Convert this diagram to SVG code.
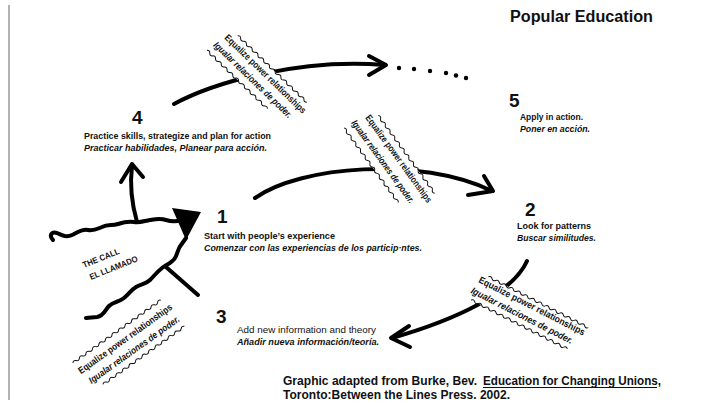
<svg xmlns="http://www.w3.org/2000/svg" width="723" height="403" viewBox="0 0 723 403">
<style>
text{font-family:"Liberation Sans",Arial,sans-serif;fill:#111}
.b{font-weight:bold}
.bi{font-weight:bold;font-style:italic}
.num{font-weight:bold;font-size:19px}
.sm{font-size:9.5px}
.lab{font-size:9.5px;font-weight:bold}
.lab2{font-size:9.5px;font-weight:bold;font-style:italic}
.arr{fill:none;stroke:#000;stroke-width:4;stroke-linecap:round;stroke-linejoin:round}
.call{fill:none;stroke:#000;stroke-width:4;stroke-linecap:round;stroke-linejoin:round}
.wave{fill:none;stroke:#111;stroke-width:1}
.strip{fill:#fff}
.ft{font-weight:bold;font-size:12.5px}
</style>
<rect width="723" height="403" fill="#fff"/>
<line x1="9" y1="5" x2="9" y2="400" stroke="#999" stroke-width="1.5"/>

<g id="title"><text x="510" y="22" class="b" font-size="16" textLength="143" lengthAdjust="spacingAndGlyphs">Popular Education</text></g>

<g id="connectors">
<path class="arr" d="M174,104 C215,82 300,58 385,65"/>
<path class="arr" d="M369,56 L386,65 L369,75"/>
<g fill="#000"><circle cx="399" cy="68" r="2.2"/><circle cx="414" cy="69" r="2.2"/><circle cx="430" cy="71" r="2.2"/><circle cx="446" cy="73" r="2.2"/><circle cx="456" cy="75.5" r="2.2"/><circle cx="466" cy="78" r="2.2"/></g>
<path class="arr" d="M255,198 C300,166 420,156 492,191"/>
<path class="arr" d="M484,176 L493,191 L468,195"/>
<path class="arr" d="M527,261 C513,293 455,320 392,338"/>
<path class="arr" d="M409,326 L391,338 L410,347"/>
<path class="call" d="M53,240 C49,236 51,231 57,233 C62,235 66,238 72,235 C78,232 82,229 88,230 C94,231 97,229 102,227 C108,224 112,226 118,224 C124,222 128,221 134,222 C140,223 144,221 150,220 C156,219 160,218 166,220 C172,222 176,222 182,220 L188,219"/>
<path class="call" d="M86,318 L97,317 C104,316 105,310 109,306 C113,302 119,302 124,298 C129,294 131,290 136,287 C141,284 146,284 150,280 C154,276 157,272 162,268 C167,264 172,263 175,258 C178,253 178,248 181,245 L186,238"/>
<polygon points="172,208 201,212 186,240" fill="#000"/>
<path class="arr" stroke-width="3" d="M166,267 L198,295"/>
<path class="arr" d="M137,222 C133,208 129,190 132,166"/>
<path class="arr" d="M121,182 L132,164 L143,177"/>
</g>

<g id="label-top" transform="translate(259,77) rotate(44)">
<rect class="strip" x="-58" y="-15" width="118" height="32"/>
<path class="wave" d="M-44,-15 q2,-2.2 4,0 t4,0 t4,0 t4,0 t4,0 t4,0 t4,0 t4,0 t4,0 t4,0 t4,0 t4,0 t4,0 t4,0 t4,0 t4,0 t4,0 t4,0 t4,0 t4,0 t4,0 t4,0 t4,0 t4,0"/>
<path class="wave" d="M-56,17 q2,-2.2 4,0 t4,0 t4,0 t4,0 t4,0 t4,0 t4,0 t4,0 t4,0 t4,0 t4,0 t4,0 t4,0 t4,0 t4,0 t4,0 t4,0 t4,0 t4,0 t4,0 t4,0"/>
<text class="lab" x="-52" y="-3.5" textLength="109" lengthAdjust="spacingAndGlyphs">Equalize power relationships</text>
<text class="lab2" x="-55" y="9.5" textLength="105" lengthAdjust="spacingAndGlyphs">Igualar relaciones de poder.</text>
</g>

<g id="label-mid" transform="translate(392,160) rotate(54)">
<rect class="strip" x="-56" y="-15" width="114" height="35"/>
<path class="wave" d="M-44,-15 q2,-2.2 4,0 t4,0 t4,0 t4,0 t4,0 t4,0 t4,0 t4,0 t4,0 t4,0 t4,0 t4,0 t4,0 t4,0 t4,0 t4,0 t4,0 t4,0 t4,0 t4,0 t4,0 t4,0 t4,0 t4,0"/>
<path class="wave" d="M-54,20 q2,-2.2 4,0 t4,0 t4,0 t4,0 t4,0 t4,0 t4,0 t4,0 t4,0 t4,0 t4,0 t4,0 t4,0 t4,0 t4,0 t4,0 t4,0 t4,0 t4,0 t4,0 t4,0 t4,0 t4,0"/>
<text class="lab" x="-50" y="-3" textLength="106" lengthAdjust="spacingAndGlyphs">Equalize power relationships</text>
<text class="lab2" x="-54" y="11.5" textLength="100" lengthAdjust="spacingAndGlyphs">Igualar relaciones de poder.</text>
</g>

<g id="label-right" transform="translate(530,312) rotate(27)">
<rect class="strip" x="-62" y="-12.5" width="124" height="28.5"/>
<path class="wave" d="M-53,-12.5 q2,-2.2 4,0 t4,0 t4,0 t4,0 t4,0 t4,0 t4,0 t4,0 t4,0 t4,0 t4,0 t4,0 t4,0 t4,0 t4,0 t4,0 t4,0 t4,0 t4,0 t4,0 t4,0 t4,0 t4,0 t4,0 t4,0 t4,0 t4,0 t4,0"/>
<path class="wave" d="M-58,16 q2,-2.2 4,0 t4,0 t4,0 t4,0 t4,0 t4,0 t4,0 t4,0 t4,0 t4,0 t4,0 t4,0 t4,0 t4,0 t4,0 t4,0 t4,0 t4,0 t4,0 t4,0 t4,0 t4,0 t4,0 t4,0 t4,0 t4,0 t4,0"/>
<text class="lab" x="-60" y="-3" textLength="118" lengthAdjust="spacingAndGlyphs">Equalize power relationships</text>
<text class="lab2" x="-62" y="10" textLength="113" lengthAdjust="spacingAndGlyphs">Igualar relaciones de poder.</text>
</g>

<g id="label-left" transform="translate(128,342) rotate(-35.5)">
<rect class="strip" x="-58" y="-15" width="118" height="35"/>
<path class="wave" d="M-57,-15 q2,-2.2 4,0 t4,0 t4,0 t4,0 t4,0 t4,0 t4,0 t4,0 t4,0 t4,0 t4,0 t4,0 t4,0 t4,0 t4,0 t4,0 t4,0 t4,0 t4,0 t4,0 t4,0 t4,0 t4,0 t4,0 t4,0 t4,0 t4,0"/>
<path class="wave" d="M-45,20 q2,-2.2 4,0 t4,0 t4,0 t4,0 t4,0 t4,0 t4,0 t4,0 t4,0 t4,0 t4,0 t4,0 t4,0 t4,0 t4,0 t4,0 t4,0 t4,0 t4,0 t4,0 t4,0 t4,0 t4,0 t4,0 t4,0"/>
<text class="lab" x="-57" y="-1" textLength="113" lengthAdjust="spacingAndGlyphs">Equalize power relationships</text>
<text class="lab2" x="-54" y="13" textLength="109" lengthAdjust="spacingAndGlyphs">Igualar relaciones de poder.</text>
</g>

<g id="the-call">
<text class="b" font-size="8.5" transform="translate(84,268) rotate(-22)" textLength="39" lengthAdjust="spacingAndGlyphs">THE CALL</text>
<text class="b" font-size="8.5" transform="translate(91,280) rotate(-22)" textLength="51" lengthAdjust="spacingAndGlyphs">EL LLAMADO</text>
</g>

<g id="node-1">
<text class="num" x="217" y="223">1</text>
<text class="b sm" x="204" y="239" textLength="131" lengthAdjust="spacingAndGlyphs">Start with people’s experience</text>
<text class="bi sm" x="204" y="251" textLength="218" lengthAdjust="spacingAndGlyphs">Comenzar con las experiencias de los particip·ntes.</text>
</g>

<g id="node-2">
<text class="num" x="525" y="216">2</text>
<text class="b sm" x="517" y="229" textLength="74" lengthAdjust="spacingAndGlyphs">Look for patterns</text>
<text class="bi sm" x="517" y="241" textLength="79" lengthAdjust="spacingAndGlyphs">Buscar similitudes.</text>
</g>

<g id="node-3">
<text class="num" x="216" y="323">3</text>
<text class="sm" x="237" y="333" textLength="139" lengthAdjust="spacingAndGlyphs">Add new information and theory</text>
<text class="bi sm" x="237" y="345" textLength="142" lengthAdjust="spacingAndGlyphs">Añadir nueva información/teoría.</text>
</g>

<g id="node-4">
<text class="num" x="132" y="124">4</text>
<text class="b sm" x="84" y="139" textLength="187" lengthAdjust="spacingAndGlyphs">Practice skills, strategize and plan for action</text>
<text class="bi sm" x="84" y="151" textLength="183" lengthAdjust="spacingAndGlyphs">Practicar habilidades, Planear para acción.</text>
</g>

<g id="node-5">
<text class="num" x="509" y="107">5</text>
<text class="b sm" x="520" y="120" textLength="63" lengthAdjust="spacingAndGlyphs">Apply in action.</text>
<text class="bi sm" x="520" y="132" textLength="70" lengthAdjust="spacingAndGlyphs">Poner en acción.</text>
</g>

<g id="footer">
<text class="ft" x="283" y="385" textLength="194" lengthAdjust="spacingAndGlyphs">Graphic adapted from Burke, Bev.</text>
<text class="ft" x="483" y="385" textLength="178" lengthAdjust="spacingAndGlyphs">Education for Changing Unions,</text>
<line x1="483" y1="387.5" x2="657" y2="387.5" stroke="#111" stroke-width="1"/>
<text class="ft" x="283" y="399" textLength="227" lengthAdjust="spacingAndGlyphs">Toronto:Between the Lines Press. 2002.</text>
</g>
</svg>
